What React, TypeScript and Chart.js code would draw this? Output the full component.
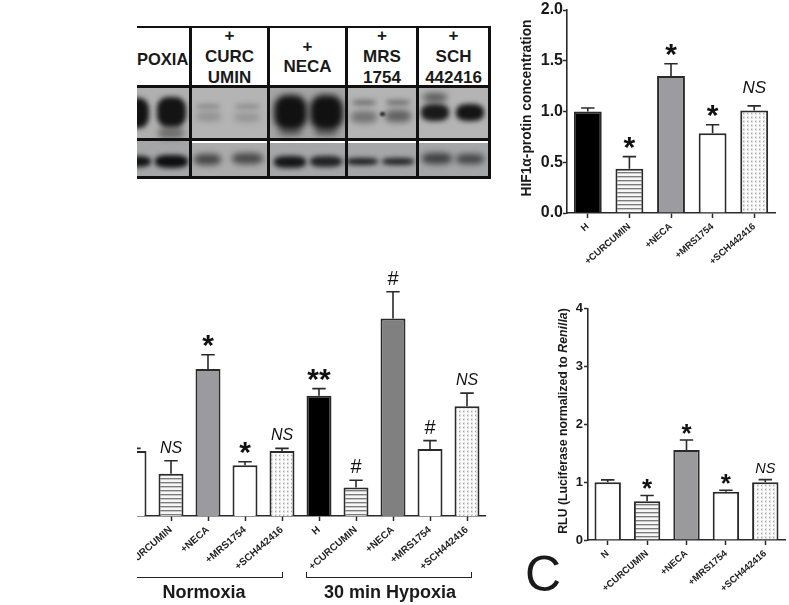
import React, { useEffect, useRef } from "react";
import { Chart, registerables } from "chart.js";

Chart.register(...registerables);
const FONT = "'Liberation Sans', Arial, sans-serif";
Chart.defaults.font.family = FONT;

// ---------- data ----------
const hifLabels = ["H", "+CURCUMIN", "+NECA", "+MRS1754", "+SCH442416"];
const hifValues = [1.0, 0.435, 1.35, 0.785, 1.01];
const hifErrors = [0.035, 0.12, 0.12, 0.085, 0.045];
const hifMarks = ["", "*", "*", "*", "NS"];
const hifTicks = [0, 0.5, 1, 1.5, 2];

const midLabels = ["N", "+CURCUMIN", "+NECA", "+MRS1754", "+SCH442416", "H", "+CURCUMIN", "+NECA", "+MRS1754", "+SCH442416"];
const midValues = [1.0, 0.65, 2.26, 0.78, 1.0, 1.85, 0.44, 3.04, 1.03, 1.69];
const midErrors = [0.04, 0.2, 0.22, 0.055, 0.04, 0.11, 0.11, 0.41, 0.13, 0.2];
const midMarks = ["", "NS", "*", "*", "NS", "**", "#", "#", "#", "NS"];

const rluLabels = ["N", "+CURCUMIN", "+NECA", "+MRS1754", "+SCH442416"];
const rluValues = [1.0, 0.67, 1.555, 0.835, 1.0];
const rluErrors = [0.04, 0.1, 0.175, 0.025, 0.045];
const rluMarks = ["", "*", "*", "*", "NS"];
const rluTicks = [0, 1, 2, 3, 4];

const blotHeaders = [["+", "CURC", "UMIN"], ["+", "NECA"], ["+", "MRS", "1754"], ["+", "SCH", "442416"]];

// ---------- helpers ----------
const INK = "#2a2a2a";

function stripes() {
  const c = document.createElement("canvas");
  c.width = 4; c.height = 4;
  const g = c.getContext("2d")!;
  g.fillStyle = "#f6f6f6"; g.fillRect(0, 0, 4, 4);
  g.fillStyle = "#7c7c7c"; g.fillRect(0, 0, 4, 1);
  g.fillStyle = "#c8c8c8"; g.fillRect(0, 1, 4, 1);
  return g.createPattern(c, "repeat")!;
}
function dots() {
  const c = document.createElement("canvas");
  c.width = 4; c.height = 4;
  const g = c.getContext("2d")!;
  g.fillStyle = "#fbfbfb"; g.fillRect(0, 0, 4, 4);
  g.fillStyle = "#e0e0e0"; g.fillRect(1, 0, 2, 3);
  g.fillStyle = "#a8a8a8"; g.fillRect(1, 1, 1, 1);
  return g.createPattern(c, "repeat")!;
}

type Style = { star: string; ns: string; hash: string; starGap: number; nsGap: number; hashGap: number };

function marksPlugin(errors: number[], marks: string[], s: Style) {
  return {
    id: "errorsAndMarks",
    afterDatasetsDraw(chart: any) {
      const { ctx, scales } = chart;
      const meta = chart.getDatasetMeta(0);
      const values = chart.data.datasets[0].data as number[];
      ctx.save();
      values.forEach((v, i) => {
        const x = meta.data[i].x;
        const y0 = scales.y.getPixelForValue(v);
        const y1 = scales.y.getPixelForValue(v + errors[i]);
        ctx.strokeStyle = INK;
        ctx.lineWidth = 1.6;
        ctx.beginPath();
        ctx.moveTo(x, y0);
        ctx.lineTo(x, y1);
        ctx.moveTo(x - 6.7, y1);
        ctx.lineTo(x + 6.7, y1);
        ctx.stroke();
        const m = marks[i];
        if (!m) return;
        const isNS = m === "NS";
        const isHash = m === "#";
        ctx.font = isNS ? s.ns : isHash ? s.hash : s.star;
        ctx.fillStyle = "#111";
        ctx.textAlign = "center";
        ctx.textBaseline = "alphabetic";
        const t = ctx.measureText(m);
        const mid = (t.actualBoundingBoxAscent - t.actualBoundingBoxDescent) / 2;
        const gap = isNS ? s.nsGap : isHash ? s.hashGap : s.starGap;
        ctx.fillText(m, x, y1 - gap + mid);
      });
      ctx.restore();
    },
  };
}

function baseAxisX(labelFont: number, xHeight: number) {
  return {
    offset: true,
    grid: { drawOnChartArea: false, drawTicks: true, tickLength: 5, tickWidth: 1.5, tickColor: INK, offset: false },
    border: { color: INK, width: 1.6 },
    ticks: { autoSkip: false, minRotation: 41, maxRotation: 41, padding: 3, color: "#222", font: { size: labelFont, weight: "bold" as const } },
    afterFit(scale: any) { scale.height = xHeight; },
  };
}

function useBarChart(
  ref: React.RefObject<HTMLCanvasElement | null>,
  build: () => any,
) {
  useEffect(() => {
    if (!ref.current) return;
    const chart = new Chart(ref.current, build());
    return () => chart.destroy();
  }, []);
}

const canvasAt = (left: number, top: number, w: number, h: number): React.CSSProperties => ({
  position: "absolute", left, top, width: w, height: h, display: "block",
});

// ---------- blot ----------
type Blob = [number, number, number, number, string, number];
const blobs: Blob[] = [
  // upper membrane: cx, cy, w, h, colour, blur
  [171, 133, 26, 12, "#6e6e6e", 3],
  [136, 113, 26, 30, "#121212", 2.5],
  [171, 112, 29, 30, "#141414", 2.5],
  [208, 106, 24, 5, "#8a8a8a", 2.5],
  [208, 116, 25, 9, "#909090", 3],
  [247, 106, 25, 5, "#8d8d8d", 2.5],
  [247, 117, 26, 9, "#949494", 3],
  [290, 132, 24, 8, "#666", 3],
  [326, 132, 24, 8, "#666", 3],
  [290, 112, 33, 35, "#111", 3],
  [326, 112, 33, 35, "#111", 3],
  [364, 102, 24, 5, "#6e6e6e", 2.5],
  [364, 117, 26, 12, "#737373", 3],
  [398, 102, 24, 5, "#6e6e6e", 2.5],
  [398, 116, 26, 12, "#606060", 3],
  [382, 114, 5, 4, "#222", 1],
  [435, 97, 24, 9, "#5a5a5a", 3],
  [435, 112, 28, 17, "#1a1a1a", 2.5],
  [470, 112, 28, 17, "#141414", 2.5],
  // lower membrane
  [136, 161, 30, 11, "#131313", 2.5],
  [171, 161, 33, 13, "#0e0e0e", 2.5],
  [207, 159, 27, 11, "#454545", 3],
  [247, 158, 31, 11, "#484848", 3],
  [290, 162, 32, 12, "#161616", 2.5],
  [326, 161, 32, 11, "#222", 2.5],
  [362, 161, 32, 7, "#1c1c1c", 2.5],
  [398, 161, 32, 7, "#202020", 2.5],
  [437, 158, 30, 11, "#3e3e3e", 3],
  [470, 159, 28, 10, "#444", 3],
];
const cellCols: [number, number][] = [[137, 190], [191, 268], [269, 346], [347, 417], [418, 489]];

function Blot() {
  return (
    <div style={{ position: "absolute", left: 137, top: 26, width: 354, height: 153, overflow: "hidden", fontFamily: FONT, fontWeight: "bold", fontSize: 17, color: "#1a1a1a" }}>
      {cellCols.map(([a, b], i) => (
        <React.Fragment key={i}>
          <div style={{ position: "absolute", left: a - 137, top: 61, width: b - a, height: 52, background: i === 0 ? "#b0b0b0" : i === 2 ? "#a4a4a4" : "#b4b4b4" }} />
          <div style={{ position: "absolute", left: a - 137, top: 114, width: b - a, height: 37, background: i === 1 ? "#acacac" : "#a4a6a8" }} />
          {i > 0 && <div style={{ position: "absolute", left: a - 137, top: 115, width: b - a, height: 2, background: "#fff" }} />}
        </React.Fragment>
      ))}
      {blobs.map(([x, y, w, h, c, blur], i) => (
        <div key={i} style={{ position: "absolute", left: x - w / 2 - 137, top: y - h / 2 - 26, width: w, height: h, background: c, borderRadius: "38%", filter: `blur(${blur}px)` }} />
      ))}
      {[[0, 2], [59, 3], [112, 3], [150, 3]].map(([t, h], i) => (
        <div key={i} style={{ position: "absolute", left: 0, top: t, width: 354, height: h, background: "#111" }} />
      ))}
      {[190, 268, 346, 417, 489].map((x, i) => (
        <div key={i} style={{ position: "absolute", left: x - 137 - 1, top: 0, width: 3, height: 152, background: "#111" }} />
      ))}
      <div style={{ position: "absolute", left: 0, top: 24, width: 51, textAlign: "right", whiteSpace: "nowrap", fontSize: 16.5 }}>POXIA</div>
      {blotHeaders.map((lines, i) => {
        const [a, b] = cellCols[i + 1];
        const tops = lines.length === 2 ? [12, 32] : [1, 22, 43];
        return lines.map((t, j) => (
          <div key={`${i}-${j}`} style={{ position: "absolute", left: a - 137, top: tops[j], width: b - a, textAlign: "center", lineHeight: "18px", whiteSpace: "nowrap" }}>{t}</div>
        ));
      })}
    </div>
  );
}

function VerticalTitle({ x, y, size, children }: { x: number; y: number; size: number; children: React.ReactNode }) {
  return (
    <div style={{ position: "absolute", left: x - 130, top: y - 10, width: 260, height: 20, lineHeight: "20px", textAlign: "center", transform: "rotate(-90deg)", fontWeight: "bold", fontSize: size, whiteSpace: "nowrap" }}>
      {children}
    </div>
  );
}

// ---------- app ----------
export default function App() {
  const topRef = useRef<HTMLCanvasElement>(null);
  const midRef = useRef<HTMLCanvasElement>(null);
  const rluRef = useRef<HTMLCanvasElement>(null);

  useBarChart(topRef, () => ({
    type: "bar",
    data: {
      labels: hifLabels,
      datasets: [{
        data: hifValues,
        backgroundColor: ["#000", stripes(), "#9c9ca0", "#fff", dots()],
        borderColor: INK, borderWidth: 2, barPercentage: 0.67, categoryPercentage: 1,
      }],
    },
    options: {
      animation: false, responsive: false,
      layout: { padding: { top: 10, right: 14, left: 0, bottom: 0 } },
      plugins: { legend: { display: false }, tooltip: { enabled: false } },
      scales: {
        x: baseAxisX(9.5, 67),
        y: {
          min: 0, max: 2,
          afterBuildTicks(s: any) { s.ticks = hifTicks.map((value) => ({ value })); },
          grid: { drawOnChartArea: false, tickLength: 4, tickWidth: 1.5, tickColor: INK },
          border: { color: INK, width: 1.6 },
          ticks: { color: "#1a1a1a", padding: 0, font: { size: 16, weight: "bold" }, callback: (v: number) => v.toFixed(1) },
          afterFit(s: any) { s.width = 57; },
        },
      },
    },
    plugins: [marksPlugin(hifErrors, hifMarks, { star: "bold 30px " + FONT, ns: "italic 17px " + FONT, hash: "18px " + FONT, starGap: 14, nsGap: 18.5, hashGap: 13 })],
  }));

  useBarChart(midRef, () => ({
    type: "bar",
    data: {
      labels: midLabels,
      datasets: [{
        data: midValues,
        backgroundColor: ["#fff", stripes(), "#9b9b9f", "#fff", dots(), "#000", stripes(), "#808080", "#fff", dots()],
        borderColor: INK, borderWidth: 2, barPercentage: 0.675, categoryPercentage: 1,
      }],
    },
    options: {
      animation: false, responsive: false,
      layout: { padding: { top: 6, right: 4.5, left: 5.5, bottom: 0 } },
      plugins: { legend: { display: false }, tooltip: { enabled: false } },
      scales: {
        x: baseAxisX(10, 60),
        y: { display: false, min: 0, max: 4 },
      },
    },
    plugins: [marksPlugin(midErrors, midMarks, { star: "bold 30px " + FONT, ns: "italic 16px " + FONT, hash: "20px " + FONT, starGap: 14, nsGap: 14, hashGap: 14 })],
  }));

  useBarChart(rluRef, () => ({
    type: "bar",
    data: {
      labels: rluLabels,
      datasets: [{
        data: rluValues,
        backgroundColor: ["#fff", stripes(), "#9a9a9c", "#fff", dots()],
        borderColor: INK, borderWidth: 2, barPercentage: 0.67, categoryPercentage: 1,
      }],
    },
    options: {
      animation: false, responsive: false,
      layout: { padding: { top: 8, right: 4, left: 0, bottom: 0 } },
      plugins: { legend: { display: false }, tooltip: { enabled: false } },
      scales: {
        x: baseAxisX(9.5, 60),
        y: {
          min: 0, max: 4,
          afterBuildTicks(s: any) { s.ticks = rluTicks.map((value) => ({ value })); },
          grid: { drawOnChartArea: false, tickLength: 4, tickWidth: 1.5, tickColor: INK },
          border: { color: INK, width: 1.6 },
          ticks: { color: "#1a1a1a", padding: 1, font: { size: 13, weight: "bold" } },
          afterFit(s: any) { s.width = 28; },
        },
      },
    },
    plugins: [marksPlugin(rluErrors, rluMarks, { star: "bold 26px " + FONT, ns: "italic 14.5px " + FONT, hash: "18px " + FONT, starGap: 11, nsGap: 11.5, hashGap: 12 })],
  }));

  return (
    <div style={{ position: "absolute", left: 0, top: 0, width: 789, height: 605, overflow: "hidden", background: "#fff", fontFamily: FONT, color: "#1a1a1a" }}>
      <Blot />

      <canvas ref={topRef} width={279} height={280} style={canvasAt(510, 0, 279, 280)} />
      <VerticalTitle x={527} y={108} size={13.8}>{"HIF1\u03b1-protin concentration"}</VerticalTitle>

      <div style={{ position: "absolute", left: 137, top: 250, width: 360, height: 326, overflow: "hidden" }}>
        <canvas ref={midRef} width={380} height={326} style={canvasAt(-27, 0, 380, 326)} />
      </div>

      <div style={{ position: "absolute", left: 137, top: 572, width: 146, height: 5.5, borderBottom: "1.5px solid #222", borderRight: "1.5px solid #222", boxSizing: "border-box" }} />
      <div style={{ position: "absolute", left: 306, top: 572, width: 166, height: 5.5, borderBottom: "1.5px solid #222", borderRight: "1.5px solid #222", borderLeft: "1.5px solid #222", boxSizing: "border-box" }} />
      <div style={{ position: "absolute", left: 104, width: 200, top: 582, lineHeight: "20px", textAlign: "center", fontWeight: "bold", fontSize: 18 }}>Normoxia</div>
      <div style={{ position: "absolute", left: 290, width: 200, top: 582, lineHeight: "20px", textAlign: "center", fontWeight: "bold", fontSize: 18, whiteSpace: "nowrap" }}>30 min Hypoxia</div>

      <canvas ref={rluRef} width={229} height={300} style={canvasAt(560, 300, 229, 300)} />
      <VerticalTitle x={563} y={421} size={12.3}>
        RLU (Luciferase normalized to <i>Renilla</i>)
      </VerticalTitle>
      <div style={{ position: "absolute", left: 525, top: 545, fontSize: 50, lineHeight: "58px" }}>C</div>
    </div>
  );
}
